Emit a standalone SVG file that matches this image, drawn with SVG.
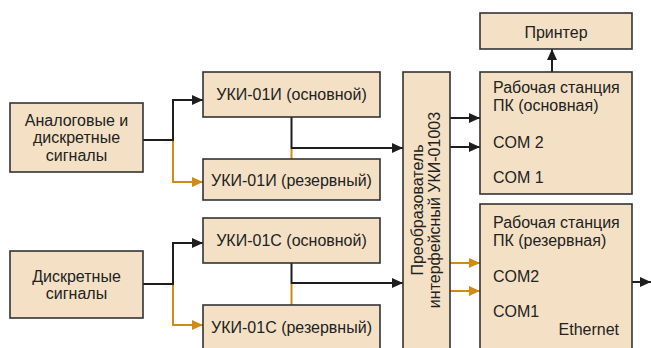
<svg xmlns="http://www.w3.org/2000/svg" width="651" height="348" viewBox="0 0 651 348">
<style>
.box{fill:#F4E1C5;stroke:#333;stroke-width:1.6}
.t{font-family:"Liberation Sans",Arial,sans-serif;font-size:16px;fill:#222}
.c{text-anchor:middle}
.k{fill:none;stroke:#1e1e1e;stroke-width:2}
.o{fill:none;stroke:#D18B14;stroke-width:2}
</style>
<defs>
<marker id="ak" markerUnits="userSpaceOnUse" markerWidth="11" markerHeight="10" refX="11" refY="5" orient="auto"><path d="M0,0 L11,5 L0,10 z" fill="#1e1e1e"/></marker>
<marker id="ao" markerUnits="userSpaceOnUse" markerWidth="11" markerHeight="10" refX="11" refY="5" orient="auto"><path d="M0,0 L11,5 L0,10 z" fill="#D18B14"/></marker>
</defs>
<rect width="651" height="348" fill="#fff"/>
<g id="connectors">
<path class="k" d="M143,140 H173 V100 H203" marker-end="url(#ak)"/>
<path class="o" d="M173,141 V182 H203" marker-end="url(#ao)"/>
<path class="k" d="M143,284 H173 V243 H203" marker-end="url(#ak)"/>
<path class="o" d="M173,285 V325 H203" marker-end="url(#ao)"/>
<path class="k" d="M291.5,117 V148 H403" marker-end="url(#ak)"/>
<path class="o" d="M291.5,149 V159"/>
<path class="k" d="M291.5,263 V283 H403" marker-end="url(#ak)"/>
<path class="o" d="M291.5,284 V305"/>
<path class="k" d="M450,118 H480" marker-end="url(#ak)"/>
<path class="k" d="M450,147 H480" marker-end="url(#ak)"/>
<path class="o" d="M450,263 H480" marker-end="url(#ao)"/>
<path class="o" d="M450,291 H480" marker-end="url(#ao)"/>
<path class="k" d="M552,72 V49" marker-end="url(#ak)"/>
<path class="k" d="M632,282 H651" marker-end="url(#ak)"/>
</g>
<g id="analog">
<rect class="box" x="10" y="103" width="133" height="69"/>
<text class="t c" x="76.5" y="125.5">Аналоговые и</text>
<text class="t c" x="76.5" y="143">дискретные</text>
<text class="t c" x="76.5" y="160.5">сигналы</text>
</g>
<g id="discrete">
<rect class="box" x="10" y="251" width="133" height="67"/>
<text class="t c" x="76.5" y="281.5">Дискретные</text>
<text class="t c" x="76.5" y="299">сигналы</text>
</g>
<g id="uki01i-main">
<rect class="box" x="203" y="72" width="177" height="45"/>
<text class="t c" x="291.5" y="100">УКИ-01И (основной)</text>
</g>
<g id="uki01i-reserve">
<rect class="box" x="203" y="159" width="177" height="41"/>
<text class="t c" x="291.5" y="186">УКИ-01И (резервный)</text>
</g>
<g id="uki01c-main">
<rect class="box" x="203" y="218" width="177" height="45"/>
<text class="t c" x="291.5" y="246">УКИ-01С (основной)</text>
</g>
<g id="uki01c-reserve">
<rect class="box" x="203" y="305" width="177" height="60"/>
<text class="t c" x="291.5" y="333">УКИ-01С (резервный)</text>
</g>
<g id="converter">
<rect class="box" x="403" y="72" width="47" height="290"/>
<g transform="translate(0,210) rotate(-90)">
<text class="t c" x="0" y="423">Преобразователь</text>
<text class="t c" x="0" y="440">интерфейсный УКИ-01003</text>
</g>
</g>
<g id="printer">
<rect class="box" x="480" y="13" width="152" height="36"/>
<text class="t c" x="556" y="38">Принтер</text>
</g>
<g id="ws-main">
<rect class="box" x="480" y="72" width="152" height="122"/>
<text class="t" x="493" y="93">Рабочая станция</text>
<text class="t" x="493" y="111">ПК (основная)</text>
<text class="t" x="493" y="148">COM 2</text>
<text class="t" x="493" y="183">COM 1</text>
</g>
<g id="ws-reserve">
<rect class="box" x="480" y="204" width="152" height="160"/>
<text class="t" x="493" y="228">Рабочая станция</text>
<text class="t" x="493" y="245.5">ПК (резервная)</text>
<text class="t" x="493" y="282">COM2</text>
<text class="t" x="493" y="317">COM1</text>
<text class="t" x="619" y="335" text-anchor="end">Ethernet</text>
</g>
</svg>
